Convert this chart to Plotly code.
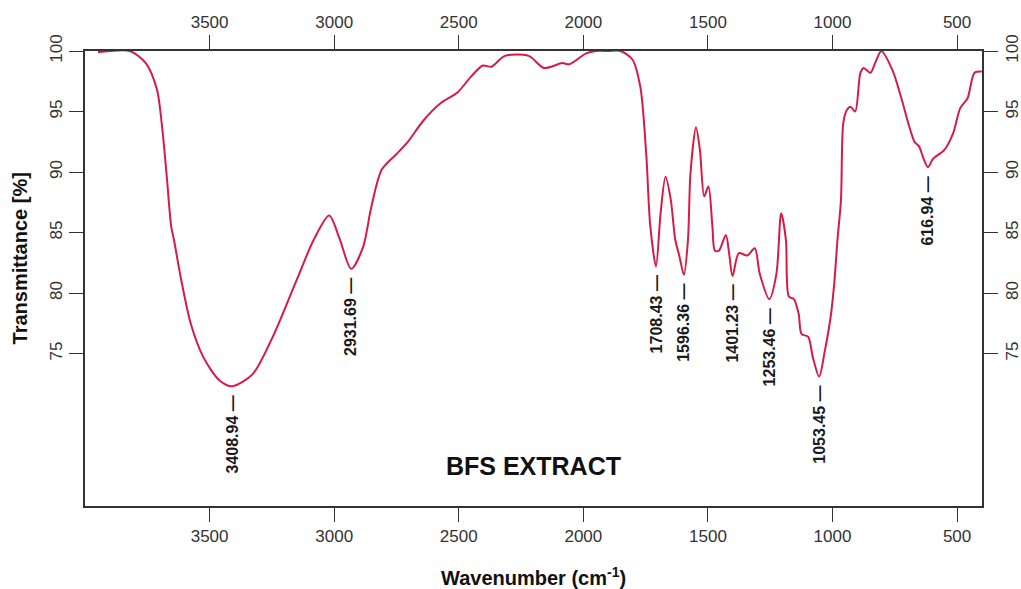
import plotly.graph_objects as go

# FTIR spectrum of the BFS extract (wavenumber in cm-1, transmittance in %)
wavenumber = [
    3948, 3900, 3820, 3756, 3711, 3692, 3673, 3654, 3643, 3614, 3576, 3525, 3461,
    3408.94, 3327, 3246, 3150, 3082, 3020, 2980, 2931.69, 2884, 2851, 2809, 2749,
    2708, 2640, 2572, 2504, 2450, 2403, 2369, 2315, 2219, 2158, 2084, 2057, 1989,
    1949, 1900, 1851, 1803, 1771, 1747, 1732, 1708.43, 1690, 1670, 1649, 1631,
    1614, 1596.36, 1580, 1570, 1548, 1532, 1515, 1498, 1482, 1472, 1456, 1428,
    1415, 1401.23, 1376, 1342, 1312, 1292, 1253.46, 1225, 1206, 1187, 1175, 1155,
    1136, 1124, 1098, 1079, 1053.45, 1031, 1007, 993, 980, 966, 957, 943, 928,
    909, 888, 875, 848, 827, 804, 759, 725, 691, 671, 652, 638, 616.94, 596, 552,
    516, 487, 458, 430, 401,
]
transmittance = [
    99.9, 100.0, 100.0, 99.0, 96.8, 94.0, 89.9, 85.5, 84.4, 81.1, 77.5, 74.7, 72.8,
    72.3, 73.3, 76.4, 81.1, 84.4, 86.4, 84.6, 82.0, 83.8, 87.1, 90.2, 91.5,
    92.4, 94.3, 95.7, 96.6, 97.9, 98.8, 98.7, 99.6, 99.6, 98.6, 99.0, 98.9, 99.8,
    100.0, 100.0, 100.0, 99.3, 97.0, 91.3, 85.7, 82.2, 86.6, 89.6, 87.7, 84.4,
    83.0, 81.5, 84.4, 89.9, 93.7, 91.8, 88.0, 88.8, 85.5, 83.5, 83.5, 84.8,
    83.3, 81.4, 83.3, 83.1, 83.7, 81.6, 79.5, 81.6, 86.6, 84.4, 79.7, 79.5,
    78.3, 76.6, 76.4, 74.7, 73.1, 75.2, 78.1, 80.8, 84.4, 87.7, 94.0, 95.1, 95.4,
    95.0, 98.2, 98.6, 98.2, 99.1, 100.0, 98.4, 96.2, 93.7, 92.5, 92.1, 91.3, 90.4, 91.1, 91.8,
    93.2, 95.3, 96.1, 98.2, 98.3,
]

# Labelled absorption minima
peak_wavenumbers = [3408.94, 2931.69, 1708.43, 1596.36, 1401.23, 1253.46, 1053.45, 616.94]
peak_labels = ["3408.94", "2931.69", "1708.43", "1596.36", "1401.23", "1253.46", "1053.45", "616.94"]

x_ticks = [3500, 3000, 2500, 2000, 1500, 1000, 500]
y_ticks = [75, 80, 85, 90, 95, 100]
x_range = [4000, 400]
y_range = [62.4, 100]

FONT = "Liberation Sans, Arial, sans-serif"
INK = "#1a1a1a"
LINE_RED = "#D81B45"

peak_values = [transmittance[wavenumber.index(w)] for w in peak_wavenumbers]

fig = go.Figure()
fig.add_trace(go.Scatter(
    x=wavenumber, y=transmittance, mode="lines",
    line=dict(color=LINE_RED, width=2, shape="spline", smoothing=0.8),
    hoverinfo="x+y", showlegend=False,
))
# Invisible companion trace so the top/right axes are drawn
fig.add_trace(go.Scatter(
    x=x_range, y=y_range, xaxis="x2", yaxis="y2", mode="markers",
    marker=dict(opacity=0), hoverinfo="skip", showlegend=False,
))

for w, t, lab in zip(peak_wavenumbers, peak_values, peak_labels):
    fig.add_annotation(
        x=w, y=t, xref="x", yref="y", text=lab + " \u2014",
        textangle=-90, showarrow=False, xanchor="center", yanchor="top",
        yshift=-7, font=dict(family=FONT, size=16, color=INK, weight="bold"),
    )

fig.add_annotation(
    x=0.5, y=0.088, xref="paper", yref="paper", text="<b>BFS EXTRACT</b>",
    showarrow=False, xanchor="center", yanchor="middle",
    font=dict(family=FONT, size=25, color="#111111"),
)
fig.add_annotation(
    x=0.5, y=-0.155, xref="paper", yref="paper",
    text="<b>Wavenumber (cm<sup>-1</sup>)</b>", showarrow=False,
    xanchor="center", yanchor="middle",
    font=dict(family=FONT, size=20, color="#111111"),
)
fig.add_annotation(
    x=-0.072, y=0.545, xref="paper", yref="paper",
    text="<b>Transmittance [%]</b>", textangle=-90, showarrow=False,
    xanchor="center", yanchor="middle",
    font=dict(family=FONT, size=20, color="#111111"),
)

axis_common = dict(
    showgrid=False, zeroline=False, showline=True, linecolor="#333333",
    linewidth=1.5, ticks="outside", ticklen=14, tickwidth=1.3, automargin=False,
    tickcolor="#333333", tickfont=dict(family=FONT, size=17, color="#333333"),
)

fig.update_layout(
    width=1021, height=589,
    margin=dict(l=85, r=39, t=51, b=83),
    paper_bgcolor="white", plot_bgcolor="white",
    xaxis=dict(range=x_range, tickvals=x_ticks, side="bottom", **axis_common),
    yaxis=dict(range=y_range, tickvals=y_ticks, tickangle=-90, side="left", **axis_common),
    xaxis2=dict(range=x_range, tickvals=x_ticks, side="top", overlaying="x", **axis_common),
    yaxis2=dict(range=y_range, tickvals=y_ticks, tickangle=-90, side="right",
                overlaying="y", **axis_common),
)

fig.write_html("out.html")
